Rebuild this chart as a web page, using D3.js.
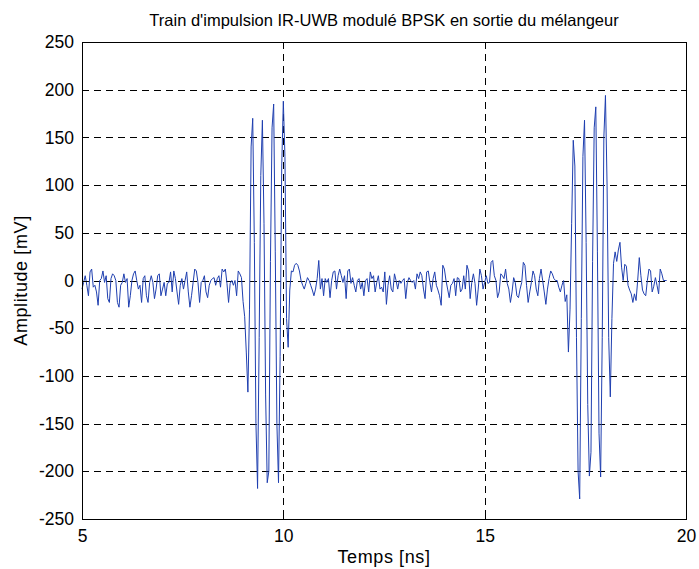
<!DOCTYPE html>
<html><head><meta charset="utf-8">
<script src="https://cdn.jsdelivr.net/npm/d3@7"></script>
<style>body{margin:0;background:#fff}text{font-family:"Liberation Sans",Arial,sans-serif}</style>
</head><body><svg id="c" width="699" height="569"></svg>
<script>
const title = "Train d'impulsion IR-UWB modulé BPSK en sortie du mélangeur";
const xLabel = "Temps [ns]";
const yLabel = "Amplitude [mV]";
const xTicks = [5, 10, 15, 20];
const yTicks = [-250, -200, -150, -100, -50, 0, 50, 100, 150, 200, 250];
const xDomain = [5, 20];
const yDomain = [-250, 250];
const sampleStepNs = 0.04;

// amplitude [mV] samples, each segment starts at the given time [ns]
const noiseAStart = 5.00;
const noiseA = [
  -9, -2, 5, -5, -16, 9, 12, -7, -5, -12,
  -26, 0, 2, 10, -2, 5, -19, -23, 2, 7,
  5, 0, -23, -28, -5, -2, 7, -2, 2, -28,
  -16, 0, 7, 10, 0, -9, -5, -23, 2, 5,
  -16, -23, -2, 5, -2, -19, -9, 5, 7, -16,
  -9, -2, -16, -3, -2, 9, -12, 10, 2, -12,
  -25, -5, 2, -9, 0, 9, -12, -28, -16, -2,
  12, 10, -2, -23, -2, 0, 5, -12, -18, -5,
  0, 2, 3, -5, 2, 5, -7, 12, 9, 12,
  -3, -23, -3, 0, -5, 0, -16, 10, 7, 3,
  -22
];
const pulse1Start = 9.04;
const pulse1 = [
  -38, -75, -117, -30, 140, 170, 40, -150, -218, -60,
  110, 168, 60, -120, -212, -200, 20, 160, 185, 30,
  -150, -212, -80, 120, 188, 130, -40, -70, -10, 10
];
const noiseBStart = 10.24;
const noiseB = [
  9, 16, 18, 16, 10, 0, -5, -9, -3, 3,
  0, -5, -10, -16, -9, 2, 21, -9, 2, -16,
  2, -2, 2, -18, 0, 9, 10, -9, 5, 12,
  5, -2, 5, -19, 10, 12, -3, 3, -5, -12,
  0, 2, -9, -2, -16, 0, 2, -12, 9, 2,
  5, -12, -2, 5, -9, -7, -12, 9, -25, -5,
  5, -9, -12, 7, 0, -9, 0, -3, 0, 2,
  -19, -2, 3, 0, -2, 0, -9, 7, 2, 9,
  5, -9, -19, 9, 10, -2, -12, 2, 9, -5,
  -10, -16, -26, 16, 12, 0, -9, -18, -5, -3,
  2, -16, 3, 2, -12, -9, 5, -9, 16, 10,
  -19, -2, 7, -3, -26, -9, 12, 5, -9, -2,
  5, -3, -2, 19, 21, 5, 0, -18, -12, 7,
  5, 2, 12, -3, -9, -23, -12, 3, -2, -16,
  -18, -9, -2, 19, 16, -5, -23, -12, -2, 10,
  5, -9, -16, 2, 12, 0, -12, -25, -9, 2,
  10, 7, 2, 0, 0, -7, -12, -5, 0, -22
];
const pulse2Start = 17.04;
const pulse2 = [
  -15, -75, -30, 60, 147, 120, -60, -200, -229, -40,
  130, 168, 40, -130, -205, -180, 20, 160, 182, 30,
  -160, -206, -60, 150, 194, 100, -60, -122, -40, 18,
  30, 20, 32, 40, 14, 0
];
const noiseCStart = 18.48;
const noiseC = [
  17, 15, -5, -10, -14, -23, -14, -21, 0, 24,
  5, -10, -14, -16, 0, 12, 10, -12, -6, 3,
  -5, -14, 12, 7, 0, 0, 0
];

const segments = [
  [noiseAStart, noiseA], [pulse1Start, pulse1], [noiseBStart, noiseB],
  [pulse2Start, pulse2], [noiseCStart, noiseC]
];
const points = [];
segments.forEach(([t0, vals]) => vals.forEach((v, i) => points.push([t0 + i * sampleStepNs, v])));

const svg = d3.select("#c");
const L = 82, R = 686, T = 42, B = 519;
const x = d3.scaleLinear().domain(xDomain).range([L, R]);
const y = d3.scaleLinear().domain(yDomain).range([B, T]);

// grid
const grid = svg.append("g").attr("stroke", "#000").attr("stroke-width", 1).attr("stroke-dasharray", "7,5").attr("shape-rendering", "crispEdges");
xTicks.filter(d => d > xDomain[0] && d < xDomain[1]).forEach(d =>
  grid.append("line").attr("x1", Math.round(x(d)) + 0.5).attr("x2", Math.round(x(d)) + 0.5).attr("y1", T).attr("y2", B));
yTicks.filter(d => d > yDomain[0] && d < yDomain[1]).forEach(d =>
  grid.append("line").attr("y1", Math.round(y(d)) + 0.5).attr("y2", Math.round(y(d)) + 0.5).attr("x1", L).attr("x2", R));

// signal
svg.append("path").datum(points)
  .attr("fill", "none").attr("stroke", "#1f3fb0").attr("stroke-width", 1)
  .attr("stroke-linejoin", "round")
  .attr("d", d3.line().x(d => x(d[0])).y(d => y(d[1])));

// axes
const plainFmt = d => String(d);
function styleAxis(g, labels) {
  g.select(".domain").remove();
  g.selectAll(".tick line").attr("stroke", "#000").attr("shape-rendering", "crispEdges");
  g.selectAll(".tick text").attr("fill", "#000").style("font-size", "17.5px").attr("font-family", "Liberation Sans, Arial, sans-serif");
  if (!labels) g.selectAll(".tick text").remove();
}
svg.append("g").attr("transform", `translate(0,${B})`)
  .call(d3.axisBottom(x).tickValues(xTicks).tickSizeInner(-5).tickSizeOuter(0).tickPadding(11).tickFormat(plainFmt))
  .call(g => styleAxis(g, true));
svg.append("g").attr("transform", `translate(0,${T})`)
  .call(d3.axisTop(x).tickValues(xTicks).tickSizeInner(-5).tickSizeOuter(0))
  .call(g => styleAxis(g, false));
svg.append("g").attr("transform", `translate(${L},0)`)
  .call(d3.axisLeft(y).tickValues(yTicks).tickSizeInner(-5).tickSizeOuter(0).tickPadding(8).tickFormat(plainFmt))
  .call(g => styleAxis(g, true));
svg.append("g").attr("transform", `translate(${R},0)`)
  .call(d3.axisRight(y).tickValues(yTicks).tickSizeInner(-5).tickSizeOuter(0))
  .call(g => styleAxis(g, false));

svg.append("rect").attr("x", L + 0.5).attr("y", T + 0.5).attr("width", R - L).attr("height", B - T)
  .attr("fill", "none").attr("stroke", "#000").attr("stroke-width", 1).attr("shape-rendering", "crispEdges");

svg.append("text").attr("x", (L + R) / 2).attr("y", 26).attr("text-anchor", "middle")
  .style("font-size", "16.5px").text(title);
svg.append("text").attr("x", (L + R) / 2).attr("y", 563).attr("text-anchor", "middle")
  .style("font-size", "18px").style("letter-spacing", "0.6px").text(xLabel);
svg.append("text").attr("transform", `translate(27,${(T + B) / 2}) rotate(-90)`).attr("text-anchor", "middle")
  .style("font-size", "18px").style("letter-spacing", "0.6px").text(yLabel);
</script></body></html>
